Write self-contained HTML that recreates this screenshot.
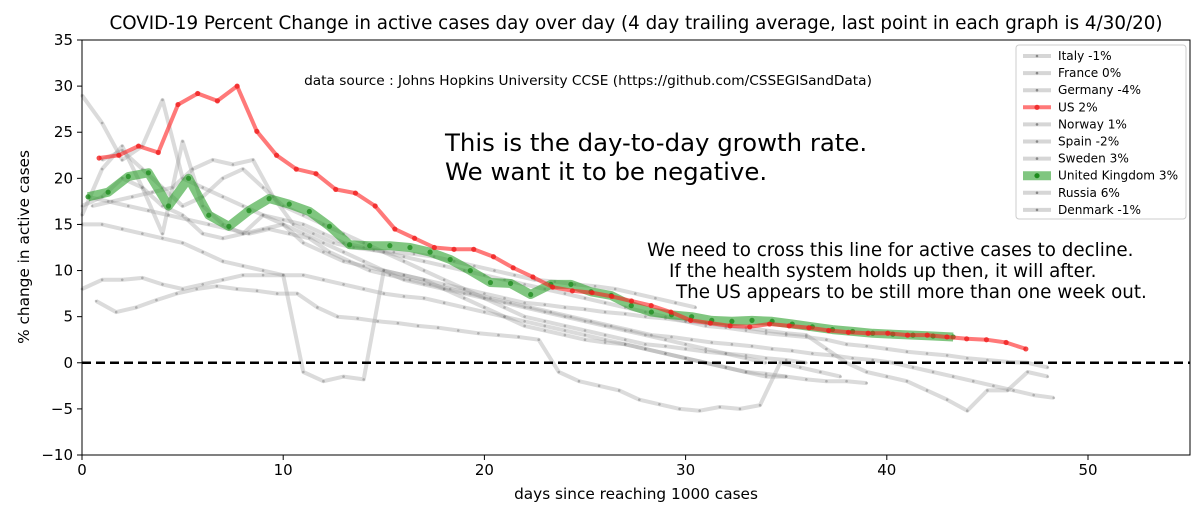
<!DOCTYPE html>
<html><head><meta charset="utf-8"><style>
body{margin:0;background:#fff;font-family:"Liberation Sans","DejaVu Sans",sans-serif}
svg text{font-family:"DejaVu Sans","Liberation Sans",sans-serif}
</style></head><body>
<svg id="c" width="1200" height="512" xmlns="http://www.w3.org/2000/svg"></svg>
<script>
const xTicks=[0,10,20,30,40,50];
const yTicks=[-10,-5,0,5,10,15,20,25,30,35];
const usStart=0.85;
const usStep=0.98;
const usVals=[22.2,22.5,23.5,22.8,28,29.2,28.4,30,25.1,22.5,21,20.5,18.8,18.4,17,14.5,13.5,12.5,12.3,12.3,11.5,10.3,9.3,8.2,7.8,7.6,7.2,6.7,6.2,5.5,4.6,4.3,4.0,3.9,4.2,4.0,3.8,3.5,3.3,3.2,3.2,3.0,3.0,2.8,2.6,2.5,2.2,1.5];
const ukStart=0.3;
const ukStep=1.0;
const ukVals=[18,18.5,20.2,20.6,17,20,16,14.8,16.5,17.8,17.2,16.4,14.8,12.8,12.7,12.7,12.5,12,11.2,10,8.7,8.6,7.4,8.5,8.5,7.7,7.3,6.2,5.5,5.2,5,4.6,4.5,4.6,4.5,4.2,3.9,3.6,3.4,3.2,3.1,3.0,2.9,2.8];
const gStarts=[0,0,0.7,0,0.5,0,1,0.3,0];
const g1=[29,26,22,23.5,28.5,20,19,18,17,16,15.5,15,14,13,12.5,12,11.5,11,10.5,10,9.5,9,8.5,8,7.5,7,6.5,6,5.5,5,4.5,4,3.8,3.5,3.2,3,2.8,2.5,2,1.8,1.5,1.2,1,0.8,0.5,0.3,0.1,0,-0.5];
const g2=[8,9,9,9.2,8.5,8,8.5,9,9.5,9.5,9.5,-1,-2,-1.5,-1.8,10,9,8.5,8,7.5,7,6.5,6,5.5,5,4.5,4,3.5,3,2.5,2,1.5,1,0.5,0];
const g3=[6.7,5.5,6,6.8,7.5,8,8.3,8,7.8,7.5,7.5,6,5,4.8,4.5,4.3,4,3.8,3.5,3.2,3,2.8,2.5,-1,-2,-2.5,-3,-4,-4.5,-5,-5.2,-4.8,-5,-4.6,0,-0.5,-1,-1.5];
const g4=[16,21,23.5,19,14,24,17,15,14,16,15,13,12,11,10.5,10,9.5,9,8.5,8,7.5,7,6.5,6.3,6,5.8,5.5,5.3,5,4.8,4.5,4.3,4,3.8,3.5,3.2,3,1.5,0,-1,-1.5,-2,-3,-4,-5.2,-3,-3,-1,-1.5];
const g5=[17,17.5,18,18.5,19,21,22,21.5,22,18,15,14,13,12.5,12.2,12,11.8,11.5,11,10.5,10,9.5,9,8.8,8.5,8.3,8,7.5,7,6.5,6];
const g6=[15,15,14.5,14,13.5,13,12,11,10.5,10,9.5,9.5,9,8.5,8,7.5,7.2,7,6.5,6,5.5,5,4.5,4,3.5,3,2.5,2,1.5,1,0.5,0,-0.5,-1,-1.5,-1.5,-1.8,-2,-2,-2.2];
const g7=[22,23,21,19,17,18,20,21,19,17,16,15,14,13,12,11,10,9,8,7,6,5,4.5,4,3.5,3,2.5,2,1.8,1.5,1.2,1,0.8,0.5,0.3,0];
const g8=[18,17.5,17,16.5,16,15.5,15,14.5,14,14.5,14,13.5,12,11,10,9.5,9,8.5,8,7.5,7,6.5,6,5.5,5,4.5,4,3.5,3,2.8,2.5,2.2,2,1.8,1.5,1.3,1,0.8,0.5,0.3,0,-0.5,-1,-1.5,-2,-2.5,-3,-3.5,-3.8];
const g9=[17,18,20,19,17,16,14,13.5,14,14.5,15,14,13,12,11,10,9.5,9,8,7,6,5,4,3.5,3,2.5,2.2,2,1.5,1,0.5,0,-0.5,-1,-1.2,-1.5];
const legendLabels=["Italy -1%","France 0%","Germany -4%","US 2%","Norway 1%","Spain -2%","Sweden 3%","United Kingdom 3%","Russia 6%","Denmark -1%"];
const grays=[g1,g2,g3,g4,g5,g6,g7,g8,g9];

const L=82,R=1190,T=40,B=455;
const X=d=>L+d*(1088-L)/50;
const Y=v=>B-(v+10)*(B-T)/45;
const NS="http://www.w3.org/2000/svg";
const svg=document.getElementById('c');
function el(t,a,p){const e=document.createElementNS(NS,t);for(const k in a)e.setAttribute(k,a[k]);(p||svg).appendChild(e);return e;}
function txt(s,a){const e=el('text',a);e.textContent=s;return e;}

function series(vals,start,step,color,w,op,dotR,dotC,name){
  const g=el('g',{});
  
  
  const pts=vals.map((v,i)=>X(start+i*step).toFixed(1)+','+Y(v).toFixed(1)).join(' ');
  el('polyline',{points:pts,fill:'none',stroke:color,'stroke-width':w,'stroke-opacity':op,'stroke-linejoin':'round'},g);
  vals.forEach((v,i)=>{const c=el('circle',{cx:X(start+i*step),cy:Y(v),r:dotR,fill:dotC},g);
    
    });
}
grays.forEach((s,i)=>series(s,gStarts[i],1,'#999',4,0.35,1.3,'rgba(120,120,120,0.45)','gray-series-'+i));
series(ukVals,ukStart,ukStep,'#2ca02c',9,0.6,2.6,'rgba(30,140,30,0.8)','uk-series');
series(usVals,usStart,usStep,'#ff2020',4,0.6,2.6,'rgba(240,30,30,0.8)','us-series');

const z=el('line',{x1:L,x2:R,y1:Y(0),y2:Y(0),stroke:'#000','stroke-width':2.5,'stroke-dasharray':'9,5'});


const fr=el('rect',{x:L,y:T,width:R-L,height:B-T,fill:'none',stroke:'#000','stroke-width':1});

xTicks.forEach(t=>{el('line',{x1:X(t),x2:X(t),y1:B,y2:B+5,stroke:'#000'});
  const e=txt(String(t),{x:X(t),y:B+20,'text-anchor':'middle','font-size':15});
  });
yTicks.forEach(t=>{el('line',{x1:L-5,x2:L,y1:Y(t),y2:Y(t),stroke:'#000'});
  const e=txt(t<0?'\u2212'+(-t):String(t),{x:L-9,y:Y(t)+5,'text-anchor':'end','font-size':15});
  });

let e;
e=txt('days since reaching 1000 cases',{x:636,y:499,'text-anchor':'middle','font-size':15.3});

e=txt('% change in active cases',{x:29,y:247,'text-anchor':'middle','font-size':15.3,transform:'rotate(-90 29 247)'});

e=txt('COVID-19 Percent Change in active cases day over day (4 day trailing average, last point in each graph is 4/30/20)',{x:636,y:29,'text-anchor':'middle','font-size':18.3});

e=txt('data source : Johns Hopkins University CCSE (https://github.com/CSSEGISandData)',{x:588,y:85,'text-anchor':'middle','font-size':13.7});

e=txt('This is the day-to-day growth rate.',{x:445,y:151,'font-size':24.4});

e=txt('We want it to be negative.',{x:445,y:180,'font-size':24.4});

e=txt('We need to cross this line for active cases to decline.',{x:647,y:256,'font-size':18.3});

e=txt('If the health system holds up then, it will after.',{x:669,y:277,'font-size':18.3});

e=txt('The US appears to be still more than one week out.',{x:676,y:298,'font-size':18.3});


const lg=el('g',{});

el('rect',{x:1016,y:45,width:170,height:174,rx:3,fill:'rgba(255,255,255,0.85)',stroke:'#ccc'},lg);
legendLabels.forEach((s,i)=>{
  const y=56+i*17.1;
  const us=s.startsWith('US'),uk=s.startsWith('United');
  const col=us?'#ff2020':uk?'#2ca02c':'#999';
  const en=el('g',{},lg);
  
  el('line',{x1:1023,x2:1051,y1:y,y2:y,stroke:col,'stroke-width':uk?9:4,'stroke-opacity':uk||us?0.6:0.4},en);
  el('circle',{cx:1037,cy:y,r:uk||us?2.6:1.3,fill:us?'#f03030':uk?'#1e8c1e':'#888'},en);
  const t=el('text',{x:1058,y:y+4,'font-size':12.1},en);t.textContent=s;
});
</script>
</body></html>
